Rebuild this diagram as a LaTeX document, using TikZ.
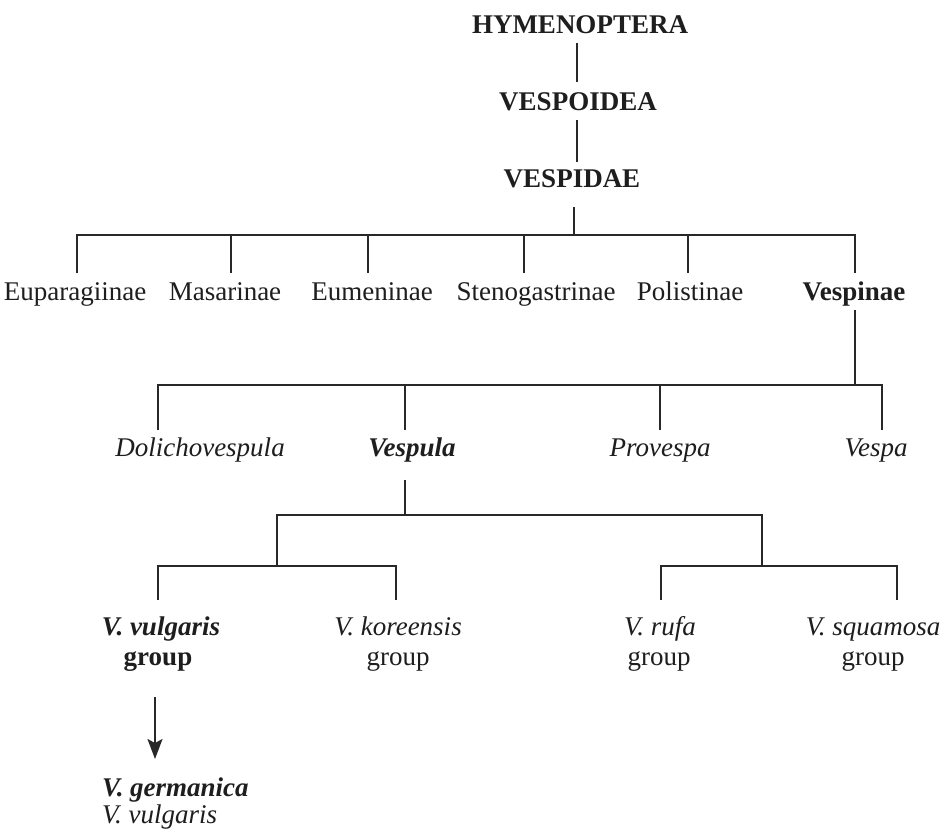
\documentclass[tikz,border=0pt]{standalone}
\usepackage{fontspec}
\setmainfont{Liberation Serif}
\usetikzlibrary{arrows.meta}
\definecolor{ink}{RGB}{30,30,30}
\definecolor{rule}{RGB}{40,40,40}
\tikzset{
  lbl/.style={anchor=base, inner sep=0pt, text=ink, font=\fontsize{27}{30}\selectfont},
  taxon/.style={lbl, font=\fontsize{27}{30}\selectfont\bfseries},
  genus/.style={lbl, font=\fontsize{27}{30}\selectfont\itshape},
  keygenus/.style={lbl, font=\fontsize{27}{30}\selectfont\bfseries\itshape},
  link/.style={draw=rule, line width=1.9pt},
}
\begin{document}
\begin{tikzpicture}[x=1pt, y=-1pt]
  \useasboundingbox[fill=white] (0,0) rectangle (944,831);

  % superfamily / family chain
  \node[taxon] (hym)   at (580,33)  {HYMENOPTERA};
  \node[taxon] (vespo) at (578,110) {VESPOIDEA};
  \node[taxon] (vespi) at (572,187) {VESPIDAE};

  % subfamilies
  \node[lbl]   (eupa) at (75,300)  {Euparagiinae};
  \node[lbl]   (masa) at (225,300) {Masarinae};
  \node[lbl]   (eume) at (372,300) {Eumeninae};
  \node[lbl]   (sten) at (536,300) {Stenogastrinae};
  \node[lbl]   (poli) at (690,300) {Polistinae};
  \node[taxon] (vespn) at (854,300) {Vespinae};

  % genera
  \node[genus]    (doli) at (200,456) {Dolichovespula};
  \node[keygenus] (vspl) at (412,456) {Vespula};
  \node[genus]    (prov) at (660,456) {Provespa};
  \node[genus]    (vspa) at (876,456) {Vespa};

  % species groups
  \node[keygenus] (gvul)  at (161,635) {V. vulgaris};
  \node[taxon]    (gvul2) at (158,665) {group};
  \node[genus]    (gkor)  at (398,635) {V. koreensis};
  \node[lbl]      (gkor2) at (398,665) {group};
  \node[genus]    (gruf)  at (660,635) {V. rufa};
  \node[lbl]      (gruf2) at (659,665) {group};
  \node[genus]    (gsqu)  at (873,635) {V. squamosa};
  \node[lbl]      (gsqu2) at (873,665) {group};

  % species
  \node[keygenus, anchor=base west] (germ) at (102,796) {V. germanica};
  \node[genus, anchor=base west]    (vulg) at (102,823) {V. vulgaris};

  % connector end points
  \coordinate (hym-b)   at (577,43);
  \coordinate (vespo-t) at (577,82);
  \coordinate (vespo-b) at (577,120);
  \coordinate (vespi-t) at (577,162);
  \coordinate (vespi-b) at (574,207);
  \coordinate (bar1)    at (574,235);
  \coordinate (eupa-t) at (77,273);
  \coordinate (masa-t) at (231,273);
  \coordinate (eume-t) at (368,273);
  \coordinate (sten-t) at (524,273);
  \coordinate (poli-t) at (688,273);
  \coordinate (vespn-t) at (855,273);

  \coordinate (vespn-b) at (855,310);
  \coordinate (bar2)    at (855,385);
  \coordinate (doli-t) at (158,430);
  \coordinate (vspl-t) at (405,430);
  \coordinate (prov-t) at (660,430);
  \coordinate (vspa-t) at (882,430);

  \coordinate (vspl-b) at (405,480);
  \coordinate (bar3)   at (405,515);
  \coordinate (left-j)  at (277,566);
  \coordinate (right-j) at (762,566);
  \coordinate (gvul-t) at (158,600);
  \coordinate (gkor-t) at (396,600);
  \coordinate (gruf-t) at (661,600);
  \coordinate (gsqu-t) at (897,600);

  \coordinate (arrow-s) at (155,697);
  \coordinate (arrow-e) at (155,759);

  % chain
  \draw[link] (hym-b) -- (vespo-t);
  \draw[link] (vespo-b) -- (vespi-t);
  \draw[link] (vespi-b) -- (bar1);

  % VESPIDAE -> subfamilies
  \draw[link] (eupa-t) |- (bar1) -| (vespn-t);
  \foreach \t in {masa-t, eume-t, sten-t, poli-t}
    \draw[link] (\t) -- (\t |- bar1);

  % Vespinae -> genera
  \draw[link] (vespn-b) -- (bar2);
  \draw[link] (doli-t) |- (bar2) -| (vspa-t);
  \draw[link] (vspl-t) -- (vspl-t |- bar2);
  \draw[link] (prov-t) -- (prov-t |- bar2);

  % Vespula -> species groups
  \draw[link] (vspl-b) -- (bar3);
  \draw[link] (left-j) |- (bar3) -| (right-j);
  \draw[link] (gvul-t) |- (left-j) -| (gkor-t);
  \draw[link] (gruf-t) |- (right-j) -| (gsqu-t);

  % V. vulgaris group -> species
  \draw[link, -{Stealth[length=20pt, width=15pt, inset=4pt]}] (arrow-s) -- (arrow-e);
\end{tikzpicture}
\end{document}
